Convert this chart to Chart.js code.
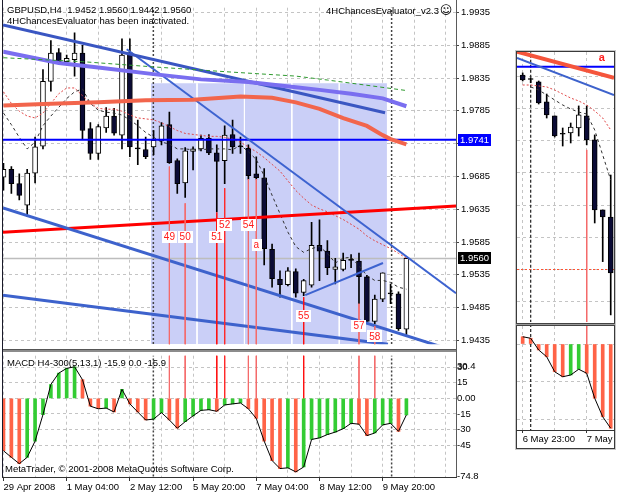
<!DOCTYPE html>
<html><head><meta charset="utf-8">
<script src="https://cdn.jsdelivr.net/npm/chart.js@4.4.1/dist/chart.umd.min.js"></script>
<style>
html,body{margin:0;padding:0;background:#fff;width:625px;height:495px;overflow:hidden}
.c{position:absolute}
</style></head><body>
<div class="c" style="left:0;top:0;width:512px;height:352px"><canvas id="main"></canvas></div>
<div class="c" style="left:0;top:349px;width:512px;height:146px"><canvas id="macd"></canvas></div>
<div class="c" style="left:510px;top:46px;width:115px;height:280px"><canvas id="mini"></canvas></div>
<div class="c" style="left:510px;top:322px;width:115px;height:130px"><canvas id="miniMacd"></canvas></div>
<script>
// ---------------- DATA (main H4 chart) ----------------
const opens  = [1.9684,1.9696,1.9674,1.9641,1.9690,1.9731,1.9830,1.9874,1.9860,1.9863,1.9873,1.9758,1.9720,1.9759,1.9777,1.9748,1.9874,1.9727,1.9726,1.9730,1.9739,1.9764,1.9709,1.9675,1.9723,1.9727,1.9743,1.9721,1.9709,1.9749,1.9730,1.9728,1.9689,1.9683,1.9574,1.9528,1.9520,1.9540,1.9508,1.9519,1.9580,1.9571,1.9543,1.9543,1.9557,1.9556,1.9532,1.9464,1.9498,1.9506,1.9506,1.9452];
const highs  = [1.9705,1.9700,1.9689,1.9696,1.9745,1.9848,1.9892,1.9880,1.9870,1.9904,1.9885,1.9767,1.9764,1.9790,1.9789,1.9895,1.9895,1.9771,1.9745,1.9755,1.9767,1.9783,1.9712,1.9729,1.9730,1.9748,1.9749,1.9733,1.9762,1.9771,1.9745,1.9733,1.9715,1.9697,1.9582,1.9541,1.9546,1.9544,1.9528,1.9615,1.9619,1.9587,1.9560,1.9568,1.9566,1.9568,1.9534,1.9504,1.9538,1.9521,1.9509,1.9560];
const lows   = [1.9664,1.9659,1.9649,1.9624,1.9675,1.9727,1.9815,1.9858,1.9855,1.9838,1.9742,1.9711,1.9711,1.9752,1.9748,1.9727,1.9715,1.9703,1.9712,1.9718,1.9733,1.9705,1.9659,1.9653,1.9695,1.9724,1.9718,1.9631,1.9674,1.9720,1.9720,1.9681,1.9681,1.9550,1.9516,1.9501,1.9518,1.9501,1.9503,1.9516,1.9526,1.9535,1.9521,1.9541,1.9546,1.9491,1.9461,1.9460,1.9494,1.9491,1.9450,1.9442];
const closes = [1.9696,1.9674,1.9656,1.9690,1.9730,1.9830,1.9873,1.9860,1.9865,1.9873,1.9755,1.9720,1.9761,1.9777,1.9751,1.9870,1.9730,1.9727,1.9715,1.9740,1.9762,1.9706,1.9674,1.9724,1.9727,1.9743,1.9721,1.9708,1.9748,1.9730,1.9730,1.9686,1.9683,1.9575,1.9529,1.9520,1.9541,1.9507,1.9526,1.9580,1.9571,1.9546,1.9547,1.9557,1.9557,1.9532,1.9464,1.9498,1.9538,1.9506,1.9453,1.9560];

const fastMA = [1.97816,1.97639,1.97447,1.97270,1.97373,1.97624,1.97771,1.97904,1.98037,1.98140,1.98184,1.97963,1.97860,1.97830,1.97816,1.97786,1.97712,1.97624,1.97521,1.97447,1.97373,1.97344,1.97270,1.97270,1.97255,1.97255,1.97270,1.97270,1.97270,1.97255,1.97329,1.97226,1.97108,1.96857,1.96562,1.96282,1.96001,1.95780,1.95692,1.95750,1.95780,1.95677,1.95530,1.95603,1.95618,1.95485,1.95338,1.95264,1.95264,1.95234,1.95160,1.95131];
const slowMA = [1.98140,1.97963,1.97845,1.97771,1.97742,1.97816,1.97963,1.98111,1.98199,1.98199,1.98081,1.97963,1.97889,1.97875,1.97875,1.97845,1.97786,1.97742,1.97728,1.97712,1.97668,1.97609,1.97550,1.97506,1.97491,1.97476,1.97461,1.97461,1.97447,1.97417,1.97373,1.97299,1.97226,1.97137,1.97034,1.96931,1.96783,1.96636,1.96518,1.96414,1.96355,1.96311,1.96252,1.96193,1.96120,1.96046,1.95942,1.95868,1.95809,1.95750,1.95677,1.95603];

const salmonBars = [0,6,12,18,24,30,34,37,40,43,46,48,49,51];
const salmonVals = [1.9793,1.9796,1.9798,1.9801,1.9802,1.9807,1.9805,1.9798,1.9788,1.9774,1.9762,1.9748,1.9742,1.9734];
const violetBars = [0,7,12,19,25,31,37,40,44,48,51];
const violetVals = [1.9875,1.9858,1.9851,1.9841,1.9833,1.9829,1.9821,1.9817,1.9811,1.9804,1.9792];
const greenBars  = [0,10,19,29,37,41,51];
const greenVals  = [1.9866,1.9860,1.9852,1.9844,1.9838,1.9832,1.9816];

const trendDarkBars = [-0.06,48.3],  trendDarkVals = [1.9916,1.9782];
const trendSteepBars = [15.6,57.28], trendSteepVals = [1.9879,1.9507];
const chanUpperBars = [-0.06,56.0],  chanUpperVals = [1.9637,1.9423];
const chanLowerBars = [-0.06,48.67], chanLowerVals = [1.9504,1.9429];
const wedgeBars = [38.2,48.04],      wedgeVals = [1.9504,1.9553];
const redLineBars = [-0.06,57.28],   redLineVals = [1.9600,1.9640];

const levelBlue = 1.9741, levelGray = 1.9560;
const rectBars = [18.67,48.54], rectTop = 1.9827;
const dayLineBars = [24.5,30.5,36.5,42.5];
const sepBars = [18.97,49.13];

const signalBars   = [21,23,27,28,31,32,38,45,47];
const signalLabels = ['49','50','51','52','54','a','55','57','58'];
const signalTops   = [1.9700,1.9644,1.9630,1.9667,1.9681,1.9681,1.9501,1.9491,1.9457];
const signalLabelPrices = [1.9593,1.9593,1.9593,1.9611,1.9611,1.9581,1.9472,1.9457,1.9441];

const priceTicks = [1.9435,1.9485,1.9535,1.9585,1.9635,1.9685,1.9735,1.9785,1.9835,1.9885,1.9935];
const gridBars = [0,4,8,12,16,20,24,28,32,36,40,44,48,52,56];
const timeLabelBars = [0,8,16,24,32,40,48];
const timeLabels = ['29 Apr 2008','1 May 04:00','2 May 12:00','5 May 20:00','7 May 04:00','8 May 12:00','9 May 20:00'];

const macd = [-50.4,-56.7,-62.8,-56.7,-41.1,-15.6,13.4,24.3,28.9,30.4,18.0,-7.5,-10.0,-9.3,-13.1,8.7,-5.3,-13.1,-20.8,-19.9,-13.7,-20.8,-28.7,-22.4,-16.8,-11.5,-10.9,-12.4,-6.3,-5.3,-4.4,-10.0,-19.3,-41.1,-59.8,-67.5,-66.8,-70.7,-66.0,-39.5,-38.0,-34.8,-32.4,-29.2,-24.0,-24.8,-35.8,-33.3,-25.5,-24.0,-31.7,-15.9];
const macdTicks = [-74.8,-45,-30,-15,0,15,30,30.4];

// ---------------- DATA (small H1 window) ----------------
const miniOpens  = [1.97358,1.97330,1.97315,1.97191,1.97104,1.96990,1.96998,1.97029,1.97104,1.96955,1.96520,1.96476];
const miniHighs  = [1.97371,1.97340,1.97321,1.97240,1.97104,1.97029,1.97060,1.97166,1.97166,1.96986,1.96520,1.96737];
const miniLows   = [1.97321,1.97310,1.97178,1.97091,1.96973,1.96917,1.96936,1.96979,1.96924,1.96439,1.96199,1.95868];
const miniCloses = [1.97327,1.97330,1.97184,1.97110,1.96979,1.96990,1.97035,1.97110,1.96955,1.96520,1.96476,1.96129];
const miniFastBars = [1,2,3,4,5,6,7,8,9,10,11];
const miniFast = [1.97284,1.97265,1.97234,1.97203,1.97172,1.97147,1.97128,1.97116,1.97017,1.96861,1.96706];
const miniSlow = [1.97296,1.97296,1.97290,1.97284,1.97265,1.97240,1.97215,1.97197,1.97172,1.97135,1.97091,1.97017];
const miniRedBars = [-0.71,11.41], miniRedVals = [1.97503,1.97340];
const miniBlueBars = [-0.71,11.41], miniBlueVals = [1.97464,1.97234];
const miniDotLevel = 1.9615;
const miniSignalBar = 8, miniSignalTop = 1.96893;
const miniSepBar = 1;
const miniLabelBar = 9.875, miniLabelPrice = 1.97462, miniLabel = 'a';
const miniPriceTicks = [1.9595,1.9615,1.9635,1.9655,1.9675,1.9695,1.9715,1.9735];
const miniGridBars = [0,4,8];
const miniTimeBars = [0,8];
const miniTimeLabels = ['6 May 23:00','7 May'];
const miniMacd = [2.9,2.3,-2.4,-5.1,-11.1,-13.1,-12.4,-10.1,-11.7,-21.7,-29.1,-33.7];
const miniMacdTicks = [-30,-15,0];

// ---------------- STYLE ----------------
const FAM = '"Liberation Sans", Arial, sans-serif';
Chart.defaults.font.family = FAM;
const GRID = '#c4c4c4';
const UP = '#ffffff', DOWN = '#0b0b35', DOJI = '#000000';
const HIST_UP = '#33cc33', HIST_DN = '#ff6347';
const signalColors = ['#f46a6a','#f46a6a','#ff1010','#ff2a2a','#f46a6a','#f46a6a','#ff1010','#f46a6a','#f46a6a'];

const pts = (xs, ys) => xs.map((x,i)=>({x, y:ys[i]}));
const idxs = a => a.map((_,i)=>i);
const line = (data, color, width, extra) => Object.assign({type:'line', data, borderColor:color, borderWidth:width, pointRadius:0, fill:false, tension:0, order:10}, extra||{});
const base = {responsive:true, maintainAspectRatio:false, animation:false, events:[], devicePixelRatio:1,
  plugins:{legend:{display:false}, tooltip:{enabled:false}}};
const bodyCol = (o,c) => c>o ? UP : (c<o ? DOWN : DOJI);
const candleSets = (O,H,L,C) => {
  const I = idxs(O);
  return [
    {type:'bar', data:I.map(i=>({x:i,y:[L[i],H[i]]})), backgroundColor:'#000', barThickness:1, grouped:false, order:30},
    {type:'bar', data:I.map(i=>({x:i,y:[O[i],C[i]]})), backgroundColor:I.map(i=>bodyCol(O[i],C[i])), borderColor:'#000', borderWidth:1, borderSkipped:false, barThickness:5, minBarLength:1, grouped:false, order:29}
  ];
};
const histColors = v => v.map((x,i)=> (i>0 && x>=v[i-1]) ? HIST_UP : HIST_DN);
const xScale = (min,max,ticks,extra) => Object.assign({type:'linear', min, max, offset:false, bounds:'data',
  afterBuildTicks:s=>{s.ticks = ticks.map(v=>({value:v}));},
  ticks:{display:false, autoSkip:false}, grid:{color:GRID, drawTicks:false, offset:false}, border:{display:false, dash:[3,3]},
  afterFit:s=>{s.height=0;}}, extra||{});

// ---------------- MAIN PRICE CHART ----------------
const mainDecor = {
  id:'mainDecor',
  afterDatasetsDraw(chart){
    const {ctx, scales:{x,y}} = chart;
    ctx.save();
    ctx.font = '10px '+FAM; ctx.textAlign='center'; ctx.textBaseline='middle';
    signalBars.forEach((b,i)=>{
      const px = x.getPixelForValue(b), py = y.getPixelForValue(signalLabelPrices[i]);
      const w = ctx.measureText(signalLabels[i]).width;
      ctx.fillStyle='#fff'; ctx.fillRect(Math.round(px-w/2-2), Math.round(py-6), Math.round(w+4), 12);
      ctx.fillStyle='#ff1a1a'; ctx.fillText(signalLabels[i], px, py+0.5);
    });
    ctx.restore();
  },
  afterDraw(chart){
    const {ctx, chartArea:a, scales:{y}} = chart;
    ctx.save();
    ctx.fillStyle='#1a1a2a'; ctx.fillRect(2,0,1,352);
    ctx.fillStyle='#5a5a5a'; ctx.fillRect(Math.round(a.right),0,1,352);
    ctx.font='9.5px '+FAM; ctx.textAlign='left'; ctx.textBaseline='middle';
    [[levelBlue,'#0000ff'],[levelGray,'#000000']].forEach(([p,bg])=>{
      const py = Math.round(y.getPixelForValue(p));
      ctx.fillStyle=bg; ctx.fillRect(a.right+2, py-6, 33, 12);
      ctx.fillStyle='#fff'; ctx.fillText(p.toFixed(4), a.right+4, py+0.5);
    });
    ctx.fillStyle='#000';
    ctx.fillText('GBPUSD,H4  1.9452 1.9560 1.9442 1.9560', 7, 10);
    ctx.fillText('4HChancesEvaluator has been inactivated.', 7, 21);
    ctx.textAlign='right';
    ctx.fillText('4HChancesEvaluator_v2.3', 439, 11);
    ctx.textAlign='center'; ctx.font='12px "DejaVu Sans"';
    ctx.fillText('\u263A', 446, 11);
    ctx.restore();
  }
};

const mainSets = [
  {type:'line', data:pts(rectBars,[rectTop,rectTop]), fill:'start', backgroundColor:'#cacff7', borderWidth:0, pointRadius:0, order:50},
  ...dayLineBars.map(b=>line(pts([b,b],[rectTop,1.90]), '#ffffff', 1, {order:45})),
  ...sepBars.map(b=>line(pts([b,b],[2.1,1.90]), '#444', 1.5, {order:44, borderDash:[2,2]})),
  ...candleSets(opens,highs,lows,closes),
  line(pts(idxs(slowMA),slowMA), '#e04848', 1, {borderDash:[2,2], order:12}),
  line(pts(idxs(fastMA),fastMA), '#303030', 1, {borderDash:[3,3], order:12}),
  line(pts(greenBars,greenVals), '#2f9a2f', 1, {borderDash:[4,3]}),
  line(pts(salmonBars,salmonVals), '#f2654c', 4),
  line(pts(violetBars,violetVals), '#7a6ef0', 4),
  line(pts(trendDarkBars,trendDarkVals), '#3a56c2', 3),
  line(pts(trendSteepBars,trendSteepVals), '#3d63d0', 2),
  line(pts(chanUpperBars,chanUpperVals), '#3d62cc', 3),
  line(pts(chanLowerBars,chanLowerVals), '#3d62cc', 3),
  line(pts(wedgeBars,wedgeVals), '#3d63d0', 2),
  line(pts(redLineBars,redLineVals), '#ff0000', 3),
  line(pts([-0.06,57.28],[levelBlue,levelBlue]), '#0000ff', 2),
  line(pts([-0.06,57.28],[levelGray,levelGray]), '#bdbdbd', 1.5, {order:40}),
  ...signalBars.map((b,i)=>line(pts([b,b],[signalTops[i],1.90]), signalColors[i], 1, {order:8}))
];

new Chart(document.getElementById('main'), {
  type:'bar',
  data:{datasets:mainSets},
  options:Object.assign({}, base, {
    layout:{padding:{left:3,top:1,right:0,bottom:3}},
    scales:{
      x: xScale(-0.06, 57.28, gridBars),
      y: {type:'linear', position:'right', min:1.9429, max:1.99423, bounds:'data',
        afterBuildTicks:s=>{s.ticks = priceTicks.map(v=>({value:v}));},
        ticks:{autoSkip:false, color:'#000', font:{size:9.5}, padding:2, callback:v=>Number(v).toFixed(4)},
        grid:{color:GRID, tickColor:'#444', tickLength:3, tickBorderDash:[]},
        border:{display:false, dash:[3,3]},
        afterFit:s=>{s.width=56;}}
    }
  }),
  plugins:[mainDecor]
});

// ---------------- MAIN MACD ----------------
const macdDecor = {
  id:'macdDecor',
  afterDraw(chart){
    const {ctx, chartArea:a} = chart;
    ctx.save();
    ctx.fillStyle='#8c8c8c'; ctx.fillRect(2,0,Math.round(a.right)-1,3);
    ctx.fillStyle='#555'; ctx.fillRect(2,0,Math.round(a.right)-1,1);
    ctx.fillStyle='#1a1a2a'; ctx.fillRect(2,0,1,Math.round(a.bottom)+1);
    ctx.fillStyle='#5a5a5a'; ctx.fillRect(Math.round(a.right),0,1,Math.round(a.bottom)+1);
    ctx.fillStyle='#333'; ctx.fillRect(2,Math.round(a.bottom),Math.round(a.right)-1,1);
    ctx.fillStyle='#000'; ctx.font='9.5px '+FAM; ctx.textAlign='left'; ctx.textBaseline='middle';
    ctx.fillText('MACD H4-300(5,13,1) -15.9 0.0 -15.9', 7, 14);
    ctx.fillText('MetaTrader, \u00A9 2001-2008 MetaQuotes Software Corp.', 5, 120);
    ctx.restore();
  }
};
new Chart(document.getElementById('macd'), {
  type:'bar',
  data:{datasets:[
    ...sepBars.map(b=>line(pts([b,b],[100,-100]), '#444', 1.5, {order:44, borderDash:[2,2]})),
    ...signalBars.map((b,i)=>line(pts([b,b],[100,0]), signalColors[i], 1, {order:40})),
    {type:'bar', data:pts(idxs(macd),macd), backgroundColor:histColors(macd), barThickness:3, grouped:false, order:20},
    line(pts(idxs(macd),macd), '#000', 1, {order:5})
  ]},
  options:Object.assign({}, base, {
    layout:{padding:{left:3,top:3,right:0,bottom:0}},
    scales:{
      x: xScale(-0.06, 57.28, gridBars, {
        ticks:{display:true, autoSkip:false, maxRotation:0, align:'start', padding:1, color:'#000', font:{size:9.5},
          callback:v=>{const k=timeLabelBars.indexOf(v); return k>=0?timeLabels[k]:'';}},
        grid:{color:GRID, drawTicks:true, tickLength:4, offset:false, tickBorderDash:[],
          tickColor:c=> (c.tick && timeLabelBars.includes(c.tick.value)) ? '#333' : 'rgba(0,0,0,0)'},
        afterFit:s=>{s.height=18;}}),
      y: {type:'linear', position:'right', min:-75.63, max:41.08, bounds:'data',
        afterBuildTicks:s=>{s.ticks = macdTicks.map(v=>({value:v}));},
        ticks:{autoSkip:false, color:'#000', font:{size:9.5}, padding:1, callback:v=> v===0?'0.00':String(v)},
        grid:{drawTicks:false, color:c=> (c.tick && (c.tick.value===30.4 || c.tick.value===-74.8)) ? 'rgba(0,0,0,0)' : GRID},
        border:{display:false, dash:[3,3]},
        afterFit:s=>{s.width=56;}}
    }
  }),
  plugins:[macdDecor]
});

// ---------------- SMALL WINDOW: PRICE ----------------
const miniDecor = {
  id:'miniDecor',
  afterDraw(chart){
    const {ctx, scales:{x,y}} = chart;
    ctx.save();
    ctx.fillStyle='#c8c8c8'; ctx.fillRect(5,4,1,276); ctx.fillRect(105,4,1,276); ctx.fillRect(5,4,101,1);
    ctx.fillStyle='#3a3a3a'; ctx.fillRect(6,5,1,275); ctx.fillRect(104,5,1,275); ctx.fillRect(6,5,99,1);
    ctx.fillStyle='#ff2020'; ctx.font='bold 11px '+FAM; ctx.textAlign='center'; ctx.textBaseline='middle';
    ctx.fillText(miniLabel, x.getPixelForValue(miniLabelBar), y.getPixelForValue(miniLabelPrice));
    ctx.restore();
  }
};
new Chart(document.getElementById('mini'), {
  type:'bar',
  data:{datasets:[
    line(pts([miniSepBar,miniSepBar],[2.1,1.90]), '#222', 1.2, {order:44, borderDash:[3,2]}),
    line(pts([-0.71,11.41],[miniDotLevel,miniDotLevel]), '#ff5030', 1, {borderDash:[2,2], order:40}),
    ...candleSets(miniOpens,miniHighs,miniLows,miniCloses),
    line(pts(idxs(miniSlow),miniSlow), '#e04848', 1, {borderDash:[2,2], order:12}),
    line(pts(miniFastBars,miniFast), '#303030', 1, {borderDash:[3,3], order:12}),
    line(pts(miniRedBars,miniRedVals), '#f5553c', 4),
    line(pts(miniBlueBars,miniBlueVals), '#3d62cc', 2),
    line(pts([-0.71,11.41],[levelBlue,levelBlue]), '#0000ff', 2),
    line(pts([miniSignalBar,miniSignalBar],[miniSignalTop,1.90]), '#f46a6a', 1, {order:8})
  ]},
  options:Object.assign({}, base, {
    layout:{padding:{left:7,top:6,right:11,bottom:4}},
    scales:{
      x: xScale(-0.71, 11.41, miniGridBars),
      y: {type:'linear', position:'right', min:1.95824, max:1.97501, bounds:'data',
        afterBuildTicks:s=>{s.ticks = miniPriceTicks.map(v=>({value:v}));},
        ticks:{display:false}, grid:{color:GRID, drawTicks:false}, border:{display:false, dash:[3,3]},
        afterFit:s=>{s.width=0;}}
    }
  }),
  plugins:[miniDecor]
});

// ---------------- SMALL WINDOW: MACD ----------------
const miniMacdDecor = {
  id:'miniMacdDecor',
  afterDraw(chart){
    const {ctx, chartArea:a} = chart;
    ctx.save();
    ctx.fillStyle='#c8c8c8'; ctx.fillRect(5,0,1,127); ctx.fillRect(105,0,1,127); ctx.fillRect(5,127,101,1);
    ctx.fillStyle='#3a3a3a'; ctx.fillRect(6,0,1,127); ctx.fillRect(104,0,1,127); ctx.fillRect(6,126,99,1);
    ctx.fillStyle='#9a9a9a'; ctx.fillRect(6,1,99,3);
    ctx.fillStyle='#444'; ctx.fillRect(6,1,99,1); ctx.fillRect(6,3,99,1);
    ctx.fillStyle='#333'; ctx.fillRect(6,Math.round(a.bottom),99,1);
    ctx.restore();
  }
};
new Chart(document.getElementById('miniMacd'), {
  type:'bar',
  data:{datasets:[
    line(pts([miniSepBar,miniSepBar],[100,-100]), '#222', 1.2, {order:44, borderDash:[3,2]}),
    line(pts([miniSignalBar,miniSignalBar],[100,0]), '#f46a6a', 1, {order:40}),
    {type:'bar', data:pts(idxs(miniMacd),miniMacd), backgroundColor:histColors(miniMacd), barThickness:3, grouped:false, order:20},
    line(pts(idxs(miniMacd),miniMacd), '#000', 1, {order:5})
  ]},
  options:Object.assign({}, base, {
    layout:{padding:{left:7,top:4,right:11,bottom:4}},
    scales:{
      x: xScale(-0.71, 11.41, miniGridBars, {
        ticks:{display:true, autoSkip:false, maxRotation:0, align:'start', padding:1, color:'#000', font:{size:9.5},
          callback:v=>{const k=miniTimeBars.indexOf(v); return k>=0?miniTimeLabels[k]:'';}},
        grid:{color:GRID, drawTicks:true, tickLength:3, offset:false, tickBorderDash:[],
          tickColor:c=> (c.tick && miniTimeBars.includes(c.tick.value)) ? '#333' : 'rgba(0,0,0,0)'},
        afterFit:s=>{s.height=18;}}),
      y: {type:'linear', position:'right', min:-34.4, max:7.2, bounds:'data',
        afterBuildTicks:s=>{s.ticks = miniMacdTicks.map(v=>({value:v}));},
        ticks:{display:false}, grid:{color:GRID, drawTicks:false}, border:{display:false, dash:[3,3]},
        afterFit:s=>{s.width=0;}}
    }
  }),
  plugins:[miniMacdDecor]
});
</script>
</body></html>
